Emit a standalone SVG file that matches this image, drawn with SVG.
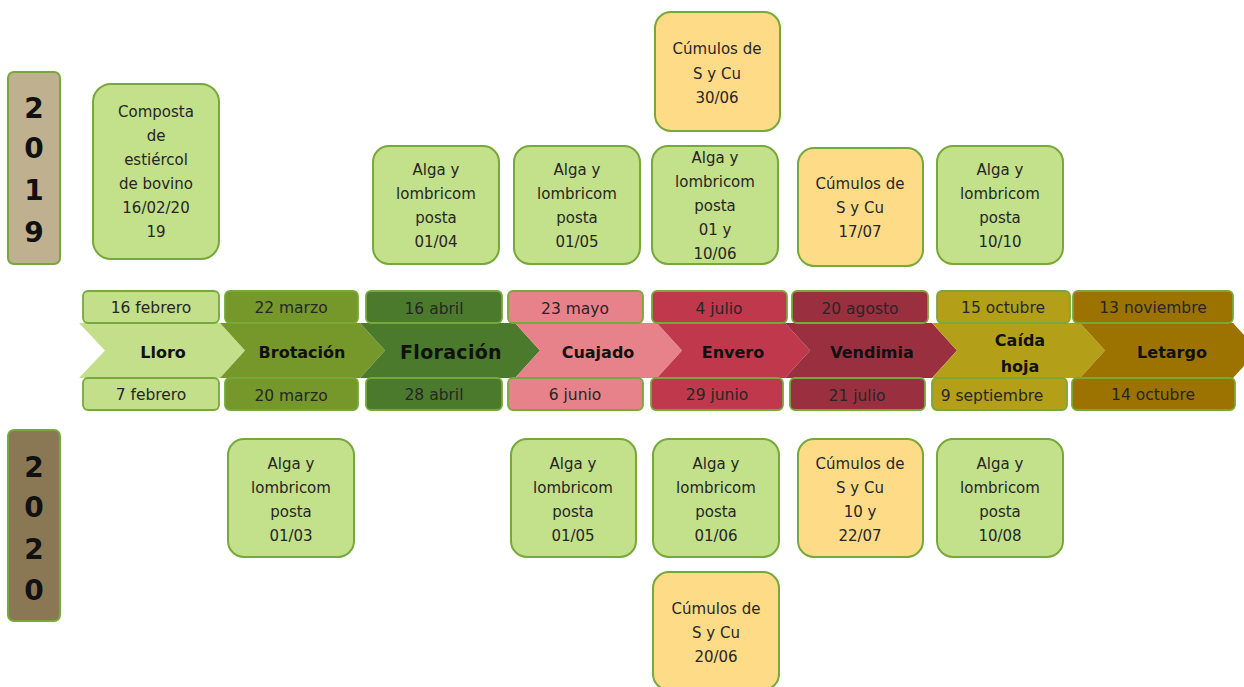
<svg xmlns="http://www.w3.org/2000/svg" width="1244" height="687" viewBox="0 0 1244 687">
<style>
.t{font-family:"DejaVu Sans","Liberation Sans",sans-serif;font-size:15px;fill:#262626;text-anchor:middle}
.d{font-family:"DejaVu Sans","Liberation Sans",sans-serif;font-size:15.5px;fill:#262626;text-anchor:middle}
.c{font-family:"DejaVu Sans","Liberation Sans",sans-serif;font-size:16px;font-weight:bold;fill:#111;text-anchor:middle}
.y{font-family:"DejaVu Sans","Liberation Sans",sans-serif;font-size:28px;font-weight:bold;fill:#111;text-anchor:middle}
.g{fill:#C3E08A;stroke:#76A83A;stroke-width:2}
.o{fill:#FEDB86;stroke:#76A83A;stroke-width:2}
.db{stroke:#76A83A;stroke-width:1.8}
</style>
<rect width="1244" height="687" fill="#fff"/>

<g id="year2019"><rect x="8" y="72" width="52" height="192" rx="6" fill="#BFB08F" stroke="#76A83A" stroke-width="2"/>
<text class="y" x="34" y="118">2</text><text class="y" x="34" y="158">0</text><text class="y" x="34" y="200">1</text><text class="y" x="34" y="242">9</text></g>
<g id="year2020"><rect x="8" y="430" width="52" height="191" rx="6" fill="#8A7855" stroke="#76A83A" stroke-width="2"/>
<text class="y" x="34" y="477">2</text><text class="y" x="34" y="517">0</text><text class="y" x="34" y="559">2</text><text class="y" x="34" y="600">0</text></g>

<g id="chevrons">
<polygon points="79,323 220,323 245,350.5 220,378 79,378 105,350.5" fill="#C3DF8A"/>
<polygon points="220,323 360,323 385,350.5 360,378 220,378 245,350.5" fill="#76982B"/>
<polygon points="360,323 515,323 540,350.5 515,378 360,378 385,350.5" fill="#4B7A2C"/>
<polygon points="515,323 657,323 682,350.5 657,378 515,378 540,350.5" fill="#E8828A"/>
<polygon points="657,323 785,323 810,350.5 785,378 657,378 682,350.5" fill="#BF384B"/>
<polygon points="785,323 932,323 957,350.5 932,378 785,378 810,350.5" fill="#9A303F"/>
<polygon points="932,323 1080,323 1105,350.5 1080,378 932,378 957,350.5" fill="#B4A018"/>
<polygon points="1080,323 1233,323 1258,350.5 1233,378 1080,378 1105,350.5" fill="#9C7300"/>
<text class="c" x="163" y="358">Lloro</text>
<text class="c" x="302" y="358">Brotación</text>
<text class="c" x="451" y="359" style="font-size:19px;letter-spacing:0.3px">Floración</text>
<text class="c" x="598" y="358">Cuajado</text>
<text class="c" x="733" y="358">Envero</text>
<text class="c" x="872" y="358">Vendimia</text>
<text class="c" x="1020" y="346">Caída</text>
<text class="c" x="1020" y="372">hoja</text>
<text class="c" x="1172" y="358">Letargo</text>
</g>

<g id="dates2019">
<rect class="db" x="83" y="291" width="136" height="32" rx="5" fill="#C3DF8A"/><text class="d" x="151" y="313">16 febrero</text>
<rect class="db" x="225" y="291" width="133" height="32" rx="5" fill="#76982B"/><text class="d" x="291" y="313">22 marzo</text>
<rect class="db" x="366" y="291" width="136" height="32" rx="5" fill="#4B7A2C"/><text class="d" x="434" y="314">16 abril</text>
<rect class="db" x="508" y="291" width="135" height="32" rx="5" fill="#E8828A"/><text class="d" x="575" y="314">23 mayo</text>
<rect class="db" x="652" y="291" width="135" height="32" rx="5" fill="#BF384B"/><text class="d" x="719" y="314">4 julio</text>
<rect class="db" x="792" y="291" width="136" height="32" rx="5" fill="#9A303F"/><text class="d" x="860" y="314">20 agosto</text>
<rect class="db" x="937" y="291" width="133" height="32" rx="5" fill="#B4A018"/><text class="d" x="1003" y="313">15 octubre</text>
<rect class="db" x="1073" y="291" width="160" height="32" rx="5" fill="#9C7300"/><text class="d" x="1153" y="313">13 noviembre</text>
</g>

<g id="dates2020">
<rect class="db" x="83" y="378" width="136" height="32" rx="5" fill="#C3DF8A"/><text class="d" x="151" y="400">7 febrero</text>
<rect class="db" x="225" y="378" width="133" height="32" rx="5" fill="#76982B"/><text class="d" x="291" y="401">20 marzo</text>
<rect class="db" x="366" y="378" width="136" height="32" rx="5" fill="#4B7A2C"/><text class="d" x="434" y="400">28 abril</text>
<rect class="db" x="508" y="378" width="135" height="32" rx="5" fill="#E8828A"/><text class="d" x="575" y="400">6 junio</text>
<rect class="db" x="651" y="378" width="132" height="32" rx="5" fill="#BF384B"/><text class="d" x="717" y="400">29 junio</text>
<rect class="db" x="790" y="378" width="135" height="32" rx="5" fill="#9A303F"/><text class="d" x="857" y="401">21 julio</text>
<rect class="db" x="932" y="378" width="135" height="32" rx="5" fill="#B4A018"/><text class="d" x="992" y="401">9 septiembre</text>
<rect class="db" x="1072" y="378" width="163" height="32" rx="5" fill="#9C7300"/><text class="d" x="1153" y="400">14 octubre</text>
</g>

<g id="composta"><rect class="g" x="93" y="84" width="126" height="175" rx="18"/>
<text class="t" x="156" y="117">Composta</text><text class="t" x="156" y="141">de</text><text class="t" x="156" y="165">estiércol</text><text class="t" x="156" y="189">de bovino</text><text class="t" x="156" y="213">16/02/20</text><text class="t" x="156" y="237">19</text></g>

<g id="alga2019a"><rect class="g" x="373" y="146" width="126" height="118" rx="16"/>
<text class="t" x="436" y="175">Alga y</text><text class="t" x="436" y="199">lombricom</text><text class="t" x="436" y="223">posta</text><text class="t" x="436" y="247">01/04</text></g>
<g id="alga2019b"><rect class="g" x="514" y="146" width="126" height="118" rx="16"/>
<text class="t" x="577" y="175">Alga y</text><text class="t" x="577" y="199">lombricom</text><text class="t" x="577" y="223">posta</text><text class="t" x="577" y="247">01/05</text></g>
<g id="alga2019c"><rect class="g" x="652" y="146" width="126" height="118" rx="16"/>
<text class="t" x="715" y="163">Alga y</text><text class="t" x="715" y="187">lombricom</text><text class="t" x="715" y="211">posta</text><text class="t" x="715" y="235">01 y</text><text class="t" x="715" y="259">10/06</text></g>
<g id="cumulos2019a"><rect class="o" x="655" y="12" width="125" height="119" rx="16"/>
<text class="t" x="717" y="54">Cúmulos de</text><text class="t" x="717" y="79">S y Cu</text><text class="t" x="717" y="103">30/06</text></g>
<g id="cumulos2019b"><rect class="o" x="798" y="148" width="125" height="118" rx="16"/>
<text class="t" x="860" y="189">Cúmulos de</text><text class="t" x="860" y="213">S y Cu</text><text class="t" x="860" y="237">17/07</text></g>
<g id="alga2019d"><rect class="g" x="937" y="146" width="126" height="118" rx="16"/>
<text class="t" x="1000" y="175">Alga y</text><text class="t" x="1000" y="199">lombricom</text><text class="t" x="1000" y="223">posta</text><text class="t" x="1000" y="247">10/10</text></g>

<g id="alga2020a"><rect class="g" x="228" y="439" width="126" height="118" rx="16"/>
<text class="t" x="291" y="469">Alga y</text><text class="t" x="291" y="493">lombricom</text><text class="t" x="291" y="517">posta</text><text class="t" x="291" y="541">01/03</text></g>
<g id="alga2020b"><rect class="g" x="511" y="439" width="125" height="118" rx="16"/>
<text class="t" x="573" y="469">Alga y</text><text class="t" x="573" y="493">lombricom</text><text class="t" x="573" y="517">posta</text><text class="t" x="573" y="541">01/05</text></g>
<g id="alga2020c"><rect class="g" x="653" y="439" width="126" height="118" rx="16"/>
<text class="t" x="716" y="469">Alga y</text><text class="t" x="716" y="493">lombricom</text><text class="t" x="716" y="517">posta</text><text class="t" x="716" y="541">01/06</text></g>
<g id="cumulos2020a"><rect class="o" x="798" y="439" width="125" height="118" rx="16"/>
<text class="t" x="860" y="469">Cúmulos de</text><text class="t" x="860" y="493">S y Cu</text><text class="t" x="860" y="517">10 y</text><text class="t" x="860" y="541">22/07</text></g>
<g id="alga2020d"><rect class="g" x="937" y="439" width="126" height="118" rx="16"/>
<text class="t" x="1000" y="469">Alga y</text><text class="t" x="1000" y="493">lombricom</text><text class="t" x="1000" y="517">posta</text><text class="t" x="1000" y="541">10/08</text></g>
<g id="cumulos2020b"><rect class="o" x="653" y="572" width="126" height="118" rx="16"/>
<text class="t" x="716" y="614">Cúmulos de</text><text class="t" x="716" y="638">S y Cu</text><text class="t" x="716" y="662">20/06</text></g>

<g id="connectors"></g>
</svg>
